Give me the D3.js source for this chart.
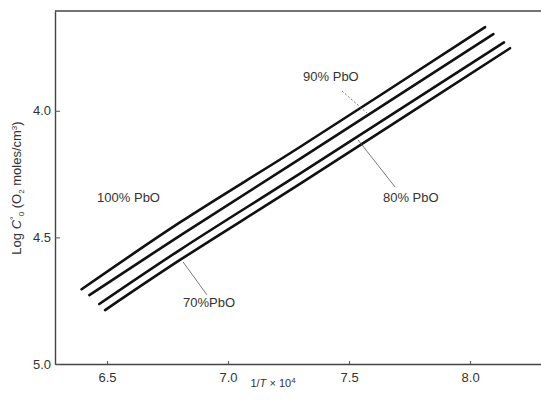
<!DOCTYPE html>
<html>
<head>
<meta charset="utf-8">
<script src="https://cdn.jsdelivr.net/npm/d3@7"></script>
<style>
  body { margin: 0; background: #fff; }
  text { font-family: "Liberation Sans", Arial, sans-serif; fill: #333; }
</style>
</head>
<body>
<div id="chart"></div>
<script>
// Composition labels, one per curve (top curve first)
const compositions = ["100% PbO", "90% PbO", "80% PbO", "70%PbO"];

// Curves: [1/T x 10^4, log C]
const curve100 = [[6.395, 4.705], [6.801, 4.441], [7.297, 4.143], [8.062, 3.670]];
const curve90 = [[6.427, 4.728], [6.800, 4.494], [7.297, 4.190], [8.096, 3.697]];
const curve80 = [[6.468, 4.763], [6.800, 4.550], [7.297, 4.248], [8.140, 3.730]];
const curve70 = [[6.492, 4.787], [6.800, 4.590], [7.297, 4.289], [8.165, 3.753]];
const curves = [curve100, curve90, curve80, curve70];

// Label anchor points and leader lines (data coordinates)
const labelPos = [[6.459, 4.362], [7.310, 3.882], [7.640, 4.362], [6.814, 4.775]];
const leaders = [null, [[7.471, 3.922], [7.574, 4.009]], [[7.537, 4.115], [7.690, 4.301]], [[6.814, 4.597], [6.913, 4.727]]];
const leaderDash = [null, "2,2", null, null];

// Tick values
const xTicks = [6.5, 7.0, 7.5, 8.0];
const yTicks = [4.0, 4.5, 5.0];

const width = 541, height = 408;

const svg = d3.select("#chart")
    .append("svg")
    .attr("width", width)
    .attr("height", height);

// Scales: the frame runs off the right edge of the picture
const xScale = d3.scaleLinear().domain([6.285, 8.293]).range([55, 541]);
const yScale = d3.scaleLinear().domain([3.606, 5.0]).range([11, 364]);

// Top border of the frame
svg.append("line")
    .attr("x1", xScale.range()[0]).attr("x2", xScale.range()[1])
    .attr("y1", yScale.range()[0]).attr("y2", yScale.range()[0])
    .attr("stroke", "#444").attr("stroke-width", 1.4);

// Axes
const xAxis = svg.append("g")
    .attr("transform", `translate(0,${yScale.range()[1]})`)
    .call(d3.axisBottom(xScale).tickValues(xTicks).tickFormat(d3.format(".1f"))
        .tickSizeInner(-3).tickSizeOuter(0).tickPadding(9));

const yAxis = svg.append("g")
    .attr("transform", `translate(${xScale.range()[0]},0)`)
    .call(d3.axisLeft(yScale).tickValues(yTicks).tickFormat(d3.format(".1f"))
        .tickSizeInner(-5).tickSizeOuter(0).tickPadding(4));

[xAxis, yAxis].forEach(g => {
    g.select(".domain").attr("stroke", "#444").attr("stroke-width", 1.4);
    g.selectAll(".tick line").attr("stroke", "#555");
    g.selectAll(".tick text")
        .style("font-size", "13px")
        .style("font-family", "'Liberation Sans', Arial, sans-serif")
        .attr("fill", "#333");
});

// Axis titles
svg.append("text")
    .attr("x", 273)
    .attr("y", 387)
    .attr("text-anchor", "middle")
    .style("font-size", "11px")
    .html("1/<tspan font-style='italic'>T</tspan> × 10<tspan dy='-4' font-size='8px'>4</tspan>");

svg.append("text")
    .attr("transform", "translate(21,188) rotate(-90)")
    .attr("text-anchor", "middle")
    .style("font-size", "13px")
    .html("Log <tspan font-style='italic'>C</tspan><tspan dy='-4' font-size='9px'>°</tspan><tspan dy='7' font-size='8px'>0</tspan><tspan dy='-3'> (O</tspan><tspan dy='3' font-size='8px'>2</tspan><tspan dy='-3'> moles/cm</tspan><tspan dy='-4' font-size='8px'>3</tspan><tspan dy='4'>)</tspan>");

// Curves
const line = d3.line()
    .x(d => xScale(d[0]))
    .y(d => yScale(d[1]))
    .curve(d3.curveCatmullRom);

svg.selectAll(".curve")
    .data(curves)
    .enter()
    .append("path")
    .attr("class", "curve")
    .attr("d", line)
    .attr("fill", "none")
    .attr("stroke", "#111")
    .attr("stroke-width", 2.6)
    .attr("stroke-linecap", "round");

// Leader lines
svg.selectAll(".leader")
    .data(leaders.map((d, i) => ({ seg: d, dash: leaderDash[i] })).filter(d => d.seg))
    .enter()
    .append("line")
    .attr("class", "leader")
    .attr("x1", d => xScale(d.seg[0][0])).attr("y1", d => yScale(d.seg[0][1]))
    .attr("x2", d => xScale(d.seg[1][0])).attr("y2", d => yScale(d.seg[1][1]))
    .attr("stroke", "#555")
    .attr("stroke-width", 0.8)
    .attr("stroke-dasharray", d => d.dash);

// Composition labels
svg.selectAll(".label")
    .data(compositions)
    .enter()
    .append("text")
    .attr("class", "label")
    .attr("x", (d, i) => xScale(labelPos[i][0]))
    .attr("y", (d, i) => yScale(labelPos[i][1]))
    .style("font-size", "13px")
    .text(d => d);
</script>
</body>
</html>
